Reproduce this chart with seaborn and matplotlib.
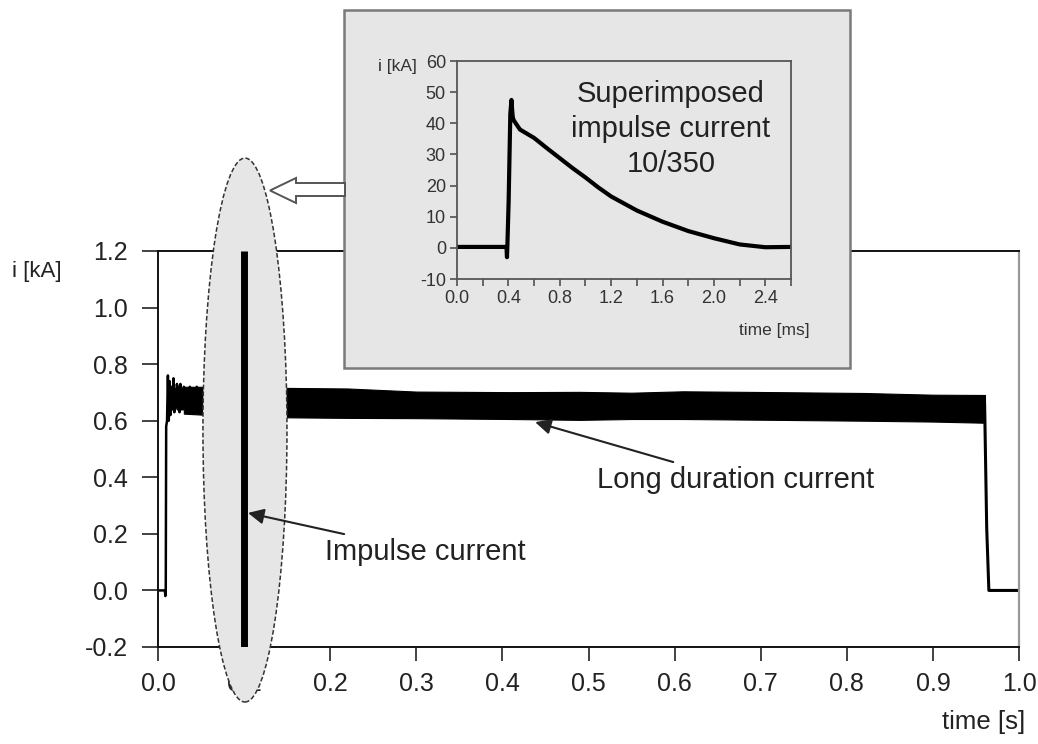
import numpy as np
import pandas as pd
import matplotlib
matplotlib.use("Agg")
import matplotlib.pyplot as plt
import seaborn as sns
from matplotlib.patches import Ellipse, Rectangle, Polygon

# ---------------- data ----------------
# Long duration current: start-up transient (time s, current kA)
start_t = [0.000, 0.008, 0.0085, 0.009, 0.0095, 0.0105, 0.0115, 0.0125, 0.0135, 0.0145,
           0.0155, 0.017, 0.018, 0.019, 0.020, 0.021, 0.022, 0.023, 0.024, 0.025,
           0.026, 0.027, 0.028, 0.029, 0.030, 0.031, 0.033, 0.035, 0.037, 0.039,
           0.041, 0.043, 0.045, 0.047, 0.049, 0.051]
start_v = [0.00, 0.00, -0.02, 0.00, 0.58, 0.60, 0.76, 0.60, 0.74, 0.62,
           0.72, 0.64, 0.75, 0.63, 0.71, 0.65, 0.73, 0.64, 0.72, 0.63,
           0.73, 0.64, 0.71, 0.64, 0.72, 0.65, 0.71, 0.63, 0.72, 0.64,
           0.71, 0.63, 0.72, 0.64, 0.71, 0.65]
# envelope of the noisy plateau
band_t = [0.03, 0.06, 0.15, 0.22, 0.30, 0.41, 0.49, 0.55, 0.61, 0.72, 0.82, 0.90, 0.958, 0.9605]
band_hi = [0.72, 0.72, 0.716, 0.714, 0.703, 0.701, 0.702, 0.699, 0.704, 0.701, 0.698, 0.692, 0.691, 0.691]
band_lo = [0.625, 0.62, 0.612, 0.610, 0.609, 0.606, 0.603, 0.606, 0.606, 0.603, 0.600, 0.597, 0.593, 0.593]
# switch-off
end_t = [0.9600, 0.9605, 0.9625, 0.9650, 0.9665, 1.0]
end_v = [0.66, 0.58, 0.22, 0.00, 0.00, 0.00]
# superimposed impulse (drawn as a bar at its time)
impulse_time = [0.1, 0.1]
impulse_span = [-0.2, 1.2]

# Inset: impulse current 10/350 (time ms, current kA)
inset_t = [0.0, 0.385, 0.389, 0.392, 0.402, 0.415, 0.424, 0.428, 0.434, 0.441, 0.49,
           0.6, 0.7, 0.8, 0.9, 1.0, 1.1, 1.2, 1.4, 1.6, 1.8, 2.0, 2.2, 2.4, 2.6]
inset_v = [0.3, 0.3, -3.0, 0.5, 15, 43, 47.5, 45, 42, 41, 38,
           35.3, 32.0, 28.8, 25.6, 22.6, 19.4, 16.5, 12.0, 8.4, 5.4, 3.1, 1.1, 0.2, 0.3]

main_xticks = [0.0, 0.1, 0.2, 0.3, 0.4, 0.5, 0.6, 0.7, 0.8, 0.9, 1.0]
main_yticks = [-0.2, 0.0, 0.2, 0.4, 0.6, 0.8, 1.0, 1.2]
inset_xticks = [0.0, 0.4, 0.8, 1.2, 1.6, 2.0, 2.4]
inset_xminor = [0.2, 0.6, 1.0, 1.4, 1.8, 2.2, 2.6]
inset_yticks = [-10, 0, 10, 20, 30, 40, 50, 60]

# ---------------- style ----------------
sns.set_style("white")
plt.rcParams['font.family'] = ['Liberation Sans', 'DejaVu Sans']
TXT = '#222222'

W, H = 1038, 744
fig = plt.figure(figsize=(W / 100, H / 100), dpi=100)
fig.patch.set_facecolor('white')

def fx(px):
    return px / W

def fy(py):
    return 1 - py / H

# ---------------- main axes ----------------
ax = fig.add_axes([fx(158), fy(647), fx(1019) - fx(158), fy(251) - fy(647)])
ax.set_facecolor('white')

df_start = pd.DataFrame({'t': start_t, 'v': start_v})
df_end = pd.DataFrame({'t': end_t, 'v': end_v})
sns.lineplot(data=df_start, x='t', y='v', ax=ax, color='black', lw=1.8,
             sort=False, estimator=None, zorder=2)
ax.fill_between(band_t, band_lo, band_hi, color='black', lw=0.8, zorder=2)
sns.lineplot(data=df_end, x='t', y='v', ax=ax, color='black', lw=2.2,
             sort=False, estimator=None, zorder=2)

# highlight ellipse around impulse
ell = Ellipse((0.101, 0.567), 0.0976, 1.923, facecolor='#e6e6e6',
              edgecolor='#333333', lw=1.1, linestyle=(0, (3, 1.5)),
              clip_on=False, zorder=3)
ax.add_patch(ell)
df_imp = pd.DataFrame({'t': impulse_time, 'v': impulse_span})
sns.lineplot(data=df_imp, x='t', y='v', ax=ax, color='black', lw=5,
             sort=False, estimator=None, zorder=4)
ax.lines[-1].set_solid_capstyle('butt')

ax.set_xlim(0, 1.0)
ax.set_ylim(-0.2, 1.2)
ax.set_xticks(main_xticks)
ax.set_xticklabels([f"{v:.1f}" for v in main_xticks])
ax.set_yticks(main_yticks)
ax.set_yticklabels([f"{v:.1f}" for v in main_yticks])
ax.set_xlabel('')
ax.set_ylabel('')
ax.tick_params(axis='y', direction='out', length=11.5, width=1.2, color='#222',
               labelsize=18, labelcolor=TXT, pad=10, left=True)
ax.tick_params(axis='x', direction='out', length=10, width=1.2, color='#222',
               labelsize=18, labelcolor=TXT, pad=8, bottom=True)
for s in ['left', 'bottom', 'top']:
    ax.spines[s].set_color('#111')
    ax.spines[s].set_linewidth(1.4)
ax.spines['right'].set_color('#999999')
ax.spines['right'].set_linewidth(1.6)

arrow_kw = dict(arrowstyle='-|>,head_length=0.45,head_width=0.22',
                color='#222', lw=1.5, shrinkA=2, shrinkB=0)
ax.annotate('Impulse current', xy=(0.1045, 0.274), xytext=(0.194, 0.136),
            ha='left', va='center', fontsize=21, color=TXT, zorder=6,
            arrowprops=arrow_kw)
ax.annotate('Long duration current', xy=(0.438, 0.595), xytext=(0.510, 0.39),
            ha='left', va='center', fontsize=21, color=TXT, zorder=6,
            arrowprops=arrow_kw)

fig.text(fx(12), fy(272), 'i [kA]', ha='left', va='center', fontsize=16, color=TXT)
fig.text(fx(1025), fy(722), 'time [s]', ha='right', va='center', fontsize=18.5, color=TXT)

# ---------------- inset box ----------------
box = Rectangle((fx(344), fy(368)), fx(850) - fx(344), fy(10) - fy(368),
                transform=fig.transFigure, facecolor='#e6e6e6', edgecolor='#7a7a7a',
                lw=1.8, zorder=1)
fig.patches.append(box)

arrow_px = [(345, 183), (296, 183), (296, 178), (270, 190.5), (296, 203), (296, 196), (345, 196)]
arr = Polygon([(fx(x), fy(y)) for x, y in arrow_px], closed=True,
              transform=fig.transFigure, facecolor='white', edgecolor='#555555',
              lw=1.4, zorder=2)
fig.patches.append(arr)

axi = fig.add_axes([fx(457), fy(279), fx(791) - fx(457), fy(61) - fy(279)])
axi.set_zorder(3)
axi.set_facecolor('#e6e6e6')
df_in = pd.DataFrame({'t': inset_t, 'v': inset_v})
sns.lineplot(data=df_in, x='t', y='v', ax=axi, color='black', lw=3.0,
             sort=False, estimator=None)
axi.set_xlim(0, 2.6)
axi.set_ylim(-10, 60)
axi.set_xticks(inset_xticks)
axi.set_xticklabels([f"{v:.1f}" for v in inset_xticks])
axi.set_xticks(inset_xminor, minor=True)
axi.set_yticks(inset_yticks)
axi.set_yticklabels([str(v) for v in inset_yticks])
axi.set_xlabel('')
axi.set_ylabel('')
axi.tick_params(axis='both', which='both', direction='out', length=5, width=1.1,
                color='#444', labelsize=13, labelcolor='#333', pad=3)
axi.tick_params(axis='x', which='both', bottom=True)
axi.tick_params(axis='y', which='both', left=True)
for s in axi.spines.values():
    s.set_color('#555555')
    s.set_linewidth(1.3)
fig.text(fx(671), fy(129), 'Superimposed\nimpulse current\n10/350',
         ha='center', va='center', fontsize=21, color=TXT, linespacing=1.33, zorder=5)
fig.text(fx(397), fy(66), 'i [kA]', ha='center', va='center', fontsize=12.5, color='#333', zorder=5)
fig.text(fx(810), fy(330), 'time [ms]', ha='right', va='center', fontsize=12.5, color='#333', zorder=5)

fig.savefig('out.png', dpi=100, facecolor='white')
